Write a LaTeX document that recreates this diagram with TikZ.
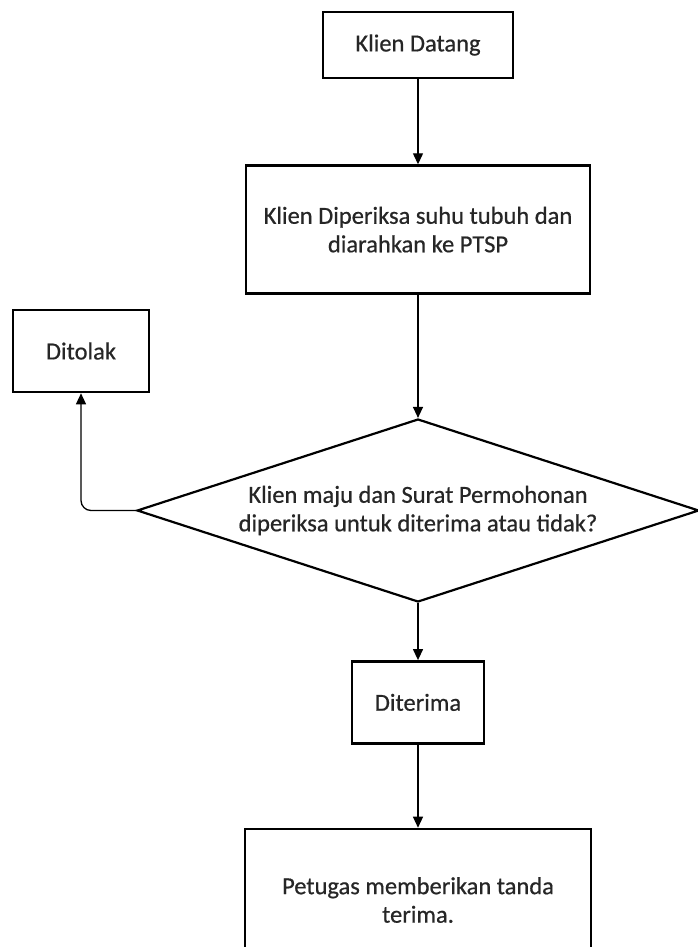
\documentclass[tikz,border=0pt]{standalone}
\usepackage{fontspec}
\setmainfont{Carlito}[FakeBold=0.6]
\usepackage{tikz}
\tikzset{
proc/.style={draw, line width=2.6pt, inner sep=0pt, align=center},
decide/.style={draw, diamond, aspect=3.1, line width=2.2pt, inner sep=0pt, align=center, minimum width=562pt, minimum height=183pt},
flow/.style={-{Triangle[length=11pt, width=10pt]}, line width=1.3pt}
}
\usetikzlibrary{positioning, shapes.geometric, arrows.meta}

\begin{document}
\begin{tikzpicture}[x=1pt, y=-1pt, font=\fontsize{24.5}{28.5}\selectfont, text=black!85, node distance=85pt]
			\useasboundingbox (0,0) rectangle (697,947);
			\node[proc, minimum width=190pt, minimum height=66pt] (start) at (418,45) {Klien Datang};
			\node[proc, below=85pt of start, minimum width=344pt, minimum height=128pt] (check) {Klien Diperiksa suhu tubuh dan\\diarahkan ke PTSP};
			\node[decide, below=123pt of check] (dec) {Klien maju dan Surat Permohonan\\diperiksa untuk diterima atau tidak?};
			\node[proc, minimum width=136pt, minimum height=82pt] (reject) at (81,351) {Ditolak};
			\node[proc, below=57pt of dec, minimum width=132pt, minimum height=82pt] (accept) {Diterima};
			\node[proc, below=83pt of accept, minimum width=346pt, minimum height=142pt] (receipt) {Petugas memberikan tanda\\terima.};
			% ----
			\draw[flow] (start) to (check);
			\draw[flow] (check) to (dec);
			\draw[flow, rounded corners=10pt] (dec.west) -| (reject.south);
			\draw[flow] (dec) to (accept);
			\draw[flow] (accept) to (receipt);
		\end{tikzpicture}
\end{document}
